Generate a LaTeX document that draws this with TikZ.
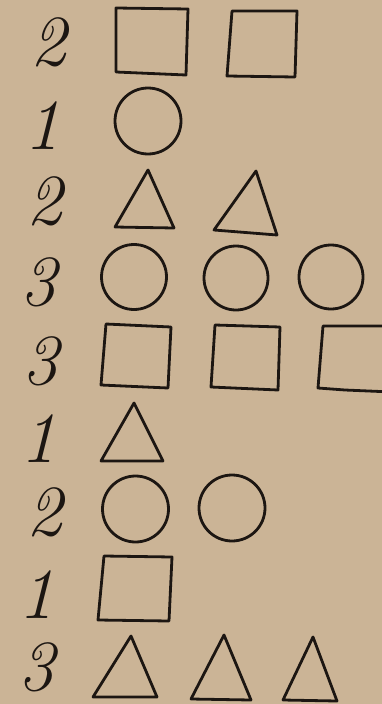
\documentclass[tikz,border=0pt]{standalone}
\usepackage{tikz}
\usetikzlibrary{positioning}

\definecolor{paper}{RGB}{203,180,150}
\definecolor{ink}{RGB}{28,22,18}

\tikzset{
  digit/.style={inner sep=0pt, text=ink, font=\fontsize{72}{72}\selectfont\itshape},
  shp/.style={draw=ink, line width=2.8pt, line join=round},
}

\begin{document}
\begin{tikzpicture}[x=1pt, y=-1pt]
    \useasboundingbox (0,0) rectangle (382,704);
    \fill[paper] (0,0) rectangle (382,704);
    \begin{scope}
    \clip (0,0) rectangle (382,704);
    % counts down the left side
    \node[digit] (n1) at (48,42)  {2};
    \node[digit] (n2) at (42,126) {1};
    \node[digit] (n3) at (45,201) {2};
    \node[digit] (n4) at (38,282) {3};
    \node[digit] (n5) at (40,361) {3};
    \node[digit] (n6) at (38,439) {1};
    \node[digit] (n7) at (44,512) {2};
    \node[digit] (n8) at (36,595) {1};
    \node[digit] (n9) at (36,667) {3};
    % row 1: two squares
    \draw[shp] (116,8) -- (188,9) -- (186,75) -- (116,72) -- cycle;
    \draw[shp] (232,11) -- (297,11) -- (295,77) -- (227,76) -- cycle;
    % row 2: one circle
    \draw[shp] (148,121) circle (33);
    % row 3: two triangles
    \draw[shp] (148,170) -- (174,228) -- (115,227) -- cycle;
    \draw[shp] (256,171) -- (277,235) -- (214,230) -- cycle;
    % row 4: three circles
    \draw[shp] (134,277) circle (32.5);
    \draw[shp] (236,278) circle (32);
    \draw[shp] (331,277) circle (32);
    % row 5: three squares, last one runs off the edge
    \draw[shp] (106,324) -- (171,327) -- (168,388) -- (101,385) -- cycle;
    \draw[shp] (215,325) -- (280,327) -- (278,390) -- (211,387) -- cycle;
    \draw[shp] (392,326) -- (323,326) -- (318,388) -- (345,390) -- (392,392);
    % row 6: one triangle
    \draw[shp] (134,403) -- (163,461) -- (101,461) -- cycle;
    % row 7: two circles
    \draw[shp] (135.5,509) circle (33);
    \draw[shp] (232,508) circle (33);
    % row 8: one square
    \draw[shp] (104,556) -- (172,557) -- (169,621) -- (98,620) -- cycle;
    % row 9: three triangles
    \draw[shp] (131,636) -- (157,697) -- (93,697) -- cycle;
    \draw[shp] (224,635) -- (251,700) -- (191,699) -- cycle;
    \draw[shp] (313,637) -- (337,701) -- (283,700) -- cycle;
    \end{scope}
\end{tikzpicture}
\end{document}
